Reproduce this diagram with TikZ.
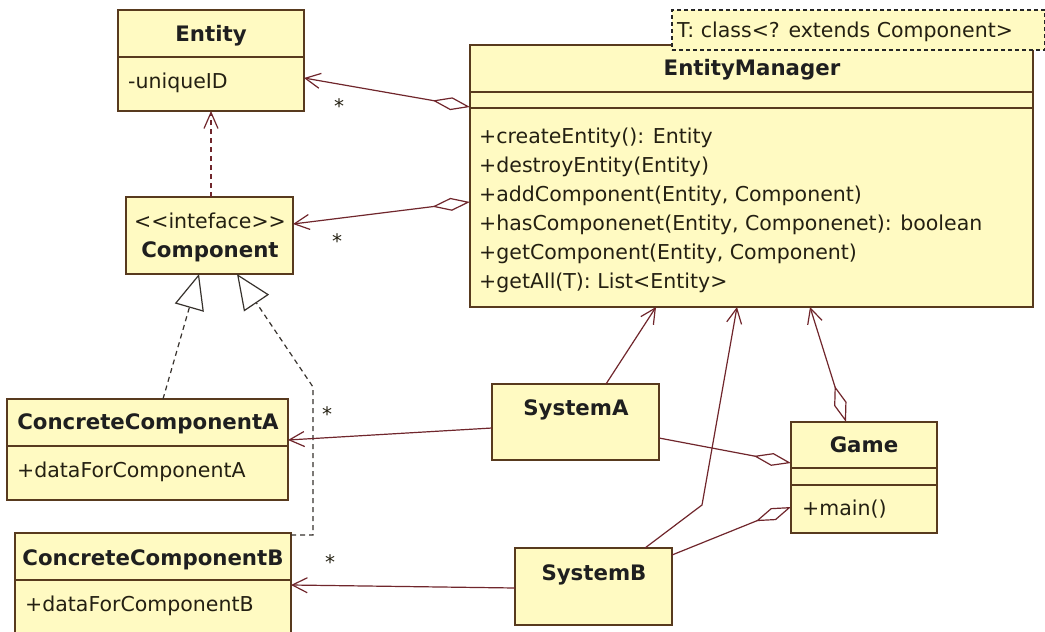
\documentclass[tikz,border=0pt]{standalone}
\usepackage{fontspec}
\setmainfont{DejaVu Sans}
\usetikzlibrary{arrows.meta}
\definecolor{classfill}{RGB}{255,250,194}
\definecolor{classline}{RGB}{88,58,30}
\definecolor{assoc}{RGB}{112,38,44}
\definecolor{realize}{RGB}{55,50,45}
\definecolor{txt}{RGB}{36,32,18}

\begin{document}
\begin{tikzpicture}[x=1pt,y=-1pt,
  classbox/.style={rectangle, draw=classline, fill=classfill, line width=1.6pt,
    inner sep=0pt, outer sep=0pt, anchor=north west},
  divider/.style={draw=classline, line width=1.6pt},
  ttl/.style={font=\fontsize{21.3}{25}\selectfont\bfseries, text=black!88,
    inner sep=0pt, anchor=base},
  member/.style={font=\fontsize{20.5}{29}\selectfont, text=txt,
    inner sep=0pt, anchor=base west},
  mult/.style={font=\fontsize{20}{22}\selectfont, text=txt, inner sep=0pt, anchor=base},
  assocline/.style={draw=assoc, line width=1.2pt},
  nav/.style={assocline, arrows={-Straight Barb[length=15pt,width=15pt]}},
  aggnav/.style={assocline, arrows={Diamond[open,length=38pt,width=13pt]-Straight Barb[length=15pt,width=15pt]}},
  agg/.style={assocline, arrows={Diamond[open,length=38pt,width=13pt]-}},
  depend/.style={assocline, dash pattern=on 5pt off 4pt,
    arrows={-Straight Barb[length=16pt,width=14pt]}},
  realization/.style={draw=realize, line width=1.2pt, dash pattern=on 5pt off 4pt,
    arrows={-Triangle[open,length=35pt,width=30pt]}}
]
\useasboundingbox (0,0) rectangle (1045,632);
\fill[white] (0,0) rectangle (1045,632);
\clip (0,0) rectangle (1045,632);

% ---------- classes ----------
\node[classbox, minimum width=186pt, minimum height=101pt] (entity) at (118,10) {};
\draw[divider] ([yshift=-47pt]entity.north west) -- ([yshift=-47pt]entity.north east);
\node[ttl] (entity-name) at (211,41) {Entity};
\node[member] (entity-id) at (128,88) {-uniqueID};

\node[classbox, minimum width=167pt, minimum height=77pt] (comp) at (126,197) {};
\node[member, anchor=base] (comp-stereo) at (210,228) {{<}{<}inteface{>}{>}};
\node[ttl] (comp-name) at (210,257) {Component};

\node[classbox, minimum width=563pt, minimum height=262pt] (em) at (470,45) {};
\draw[divider] ([yshift=-47pt]em.north west) -- ([yshift=-47pt]em.north east);
\draw[divider] ([yshift=-63pt]em.north west) -- ([yshift=-63pt]em.north east);
\node[ttl] (em-name) at (752,75) {EntityManager};
\node[member] (em-m1) at (479,143) {+createEntity(): Entity};
\node[member] (em-m2) at (479,172) {+destroyEntity(Entity)};
\node[member] (em-m3) at (479,201) {+addComponent(Entity, Component)};
\node[member] (em-m4) at (479,230) {+hasComponenet(Entity, Componenet): boolean};
\node[member] (em-m5) at (479,259) {+getComponent(Entity, Component)};
\node[member] (em-m6) at (479,288) {+getAll(T): List{<}Entity{>}};

% template parameter box over the corner of EntityManager
\node[classbox, draw=black!85, line width=1.2pt, dash pattern=on 4pt off 3pt,
      minimum width=373pt, minimum height=40pt] (tparam) at (672,10) {};
\node[member] (tparam-text) at (677,37) {T: class{<}? extends Component{>}};

\node[classbox, minimum width=281pt, minimum height=101pt] (cca) at (7,399) {};
\draw[divider] ([yshift=-47pt]cca.north west) -- ([yshift=-47pt]cca.north east);
\node[ttl] (cca-name) at (148,429) {ConcreteComponentA};
\node[member] (cca-data) at (17,477) {+dataForComponentA};

\node[classbox, minimum width=276pt, minimum height=120pt] (ccb) at (15,533) {};
\draw[divider] ([yshift=-47pt]ccb.north west) -- ([yshift=-47pt]ccb.north east);
\node[ttl] (ccb-name) at (153,565) {ConcreteComponentB};
\node[member] (ccb-data) at (25,611) {+dataForComponentB};

\node[classbox, minimum width=167pt, minimum height=76pt] (sysa) at (492,384) {};
\node[ttl] (sysa-name) at (576,415) {SystemA};

\node[classbox, minimum width=157pt, minimum height=77pt] (sysb) at (515,548) {};
\node[ttl] (sysb-name) at (594,580) {SystemB};

\node[classbox, minimum width=146pt, minimum height=111pt] (game) at (791,422) {};
\draw[divider] ([yshift=-46pt]game.north west) -- ([yshift=-46pt]game.north east);
\draw[divider] ([yshift=-63pt]game.north west) -- ([yshift=-63pt]game.north east);
\node[ttl] (game-name) at (864,452) {Game};
\node[member] (game-main) at (802,515) {+main()};

% ---------- relations ----------
\draw[aggnav] ([yshift=-62pt]em.north west) -- ([yshift=-68pt]entity.north east);
\node[mult] (mult-entity) at (339,113) {*};
\draw[aggnav] ([yshift=-157pt]em.north west) -- ([yshift=-27pt]comp.north east);
\node[mult] (mult-comp) at (337,248) {*};

\draw[depend] ([xshift=1.5pt]comp.north) -- (entity.south);

\draw[realization] ([xshift=156pt]cca.north west) -- ([xshift=73pt]comp.south west);
\draw[realization] ([yshift=-2pt]ccb.north east) -- ++(22,0) -- ++(0,-148)
  -- ([xshift=111pt]comp.south west);

\draw[nav] ([yshift=-44pt]sysa.north west) -- ([yshift=-41pt]cca.north east);
\node[mult] (mult-cca) at (327,421) {*};
\draw[nav] ([yshift=-40pt]sysb.north west) -- ([yshift=-52pt]ccb.north east);
\node[mult] (mult-ccb) at (330,569) {*};

\draw[nav] ([xshift=114pt]sysa.north west) -- ([xshift=186pt]em.south west);
\draw[nav] ([xshift=130pt]sysb.north west) -- ++(57,-43) -- ([xshift=267pt]em.south west);
\draw[aggnav] ([xshift=55pt]game.north west) -- ([xshift=340pt]em.south west);

\draw[agg] ([yshift=-41pt]game.north west) -- ([yshift=-54pt]sysa.north east);
\draw[agg] ([yshift=-85pt]game.north west) -- ([yshift=-7pt]sysb.north east);
\end{tikzpicture}
\end{document}
